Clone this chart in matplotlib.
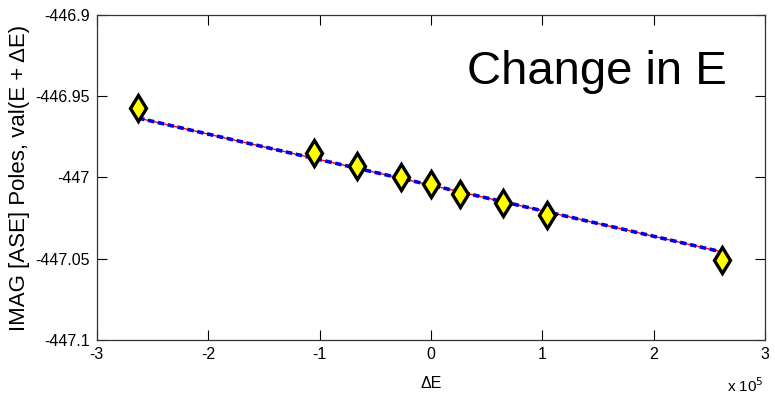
import numpy as np
import matplotlib
matplotlib.use("Agg")
import matplotlib.pyplot as plt

plt.rcParams['font.family'] = ['Liberation Sans', 'DejaVu Sans']

# pole shift data
delta_e = [-2.63e5, -1.05e5, -0.66e5, -0.27e5, 0.0, 0.26e5, 0.65e5, 1.04e5, 2.61e5]
imag_poles = [-446.957, -446.985, -446.993, -447.000, -447.004,
              -447.010, -447.016, -447.023, -447.051]

# dashed fit line end values (as drawn in the original)
fit_x = [-2.63e5, 2.61e5]
fit_y = [-446.9634, -447.0458]

x_ticks = [-3, -2, -1, 0, 1, 2, 3]
y_ticks = [-446.9, -446.95, -447, -447.05, -447.1]
y_tick_labels = ['-446.9', '-446.95', '-447', '-447.05', '-447.1']

x = np.array(delta_e)
y = np.array(imag_poles)
xf = np.array(fit_x)

fig = plt.figure(figsize=(7.75, 4.07), dpi=100)
ax = fig.add_axes([0.125, 0.165, 0.862, 0.798])

ax.plot(xf / 1e5, fit_y, color='red', linewidth=1.0, zorder=2)
ax.plot(xf / 1e5, fit_y, color='#0000e6', linestyle=(0, (1.8, 1.0)), linewidth=2.6, zorder=3)
ax.plot(x / 1e5, y, linestyle='none', marker='d', markersize=13,
        markerfacecolor='#ffff00', markeredgecolor='black', markeredgewidth=2.4, zorder=4)

ax.set_xlim(-3, 3)
ax.set_ylim(-447.1, -446.9)
ax.set_xticks(x_ticks)
ax.set_xticklabels([str(t) for t in x_ticks])
ax.set_yticks(y_ticks)
ax.set_yticklabels(y_tick_labels)
ax.tick_params(direction='in', length=7, width=0.8, top=True, right=True,
               labelsize=11.5, colors='black', pad=5)
for s in ax.spines.values():
    s.set_linewidth(0.9)
    s.set_color('#333333')

ax.set_xlabel('\u0394E', fontsize=11.5, labelpad=10)
ax.set_ylabel('IMAG [ASE] Poles, val(E + \u0394E)', fontsize=16, labelpad=4)

fig.text(0.962, 0.03, 'x 10$^5$', fontsize=11, ha='center', va='bottom')
ax.text(0.32, -446.935, 'Change in E', fontsize=34, ha='left', va='center')

fig.savefig('out.png', dpi=100)
